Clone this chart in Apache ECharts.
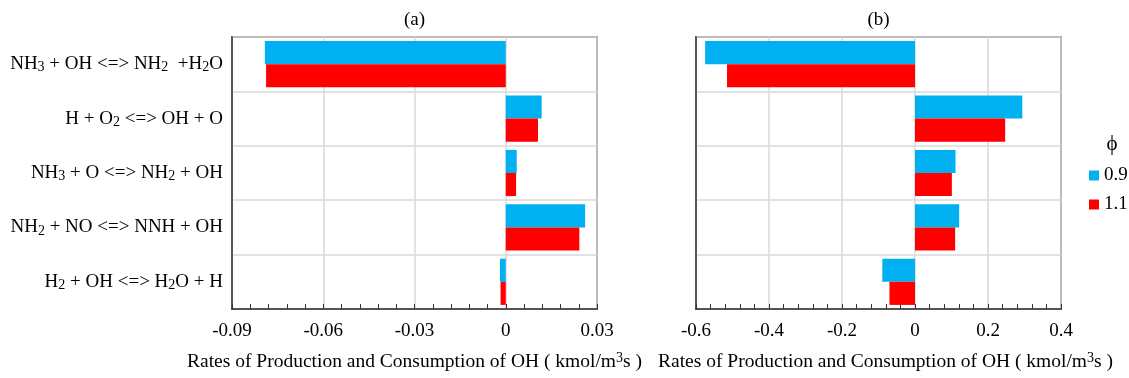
<!DOCTYPE html>
<html>
<head>
<meta charset="utf-8">
<script src="https://cdn.jsdelivr.net/npm/echarts@6/dist/echarts.min.js"></script>
<style>html,body{margin:0;padding:0;background:#fff}#c{width:1129px;height:378px}</style>
</head>
<body>
<div id="c"></div>
<script>
// Categories (underscore + digit marks a subscript)
var categories = [
  'NH_3 + OH <=> NH_2  +H_2O',
  'H + O_2 <=> OH + O',
  'NH_3 + O <=> NH_2 + OH',
  'NH_2 + NO <=> NNH + OH',
  'H_2 + OH <=> H_2O + H'
];
var seriesNames = ['0.9', '1.1'];
// Panel (a)
var a_phi09 = [-0.0792, 0.0118, 0.0036, 0.0261, -0.0019];
var a_phi11 = [-0.0788, 0.0106, 0.0034, 0.0242, -0.0017];
// Panel (b)
var b_phi09 = [-0.575, 0.294, 0.111, 0.121, -0.0895];
var b_phi11 = [-0.515, 0.247, 0.101, 0.110, -0.070];
var aTicks = {min: -0.09, max: 0.03, interval: 0.03};
var bTicks = {min: -0.6, max: 0.4, interval: 0.2};
var panelTitles = ['(a)', '(b)'];
var axisTitle = 'Rates of Production and Consumption of OH ( kmol/m{p|3}s )';
var legendTitle = '\u03D5';

var FONT = 'Liberation Serif';
var BLUE = '#00B0F0', RED = '#FF0000', GRID = '#D9D9D9', LINE = '#333333';

function fmtNum(v) {
  var r = Math.round(v * 1000) / 1000;
  if (Math.abs(r) < 1e-9) return '0';
  return String(r);
}
function catFmt(s) { return s.replace(/_(\d)/g, '{s|$1}'); }

function xAxisFor(t, gi, namePad) {
  return {
    type: 'value', gridIndex: gi, min: t.min, max: t.max, interval: t.interval,
    axisLine: {show: true, onZero: false, lineStyle: {color: LINE, width: 1.5}},
    axisTick: {show: true, inside: true, length: 5, lineStyle: {color: LINE, width: 1}},
    minorTick: {show: true, splitNumber: 5, length: 5, lineStyle: {color: LINE, width: 1}},
    splitLine: {show: true, lineStyle: {color: GRID, width: 1.5}},
    axisLabel: {fontFamily: FONT, fontSize: 19, color: '#000', margin: 13, formatter: fmtNum},
    name: axisTitle, nameLocation: 'middle', nameGap: 42,
    nameTextStyle: {fontFamily: FONT, fontSize: 19.5, color: '#000', lineHeight: 22, padding: namePad,
      rich: {p: {fontFamily: FONT, fontSize: 14, lineHeight: 13, verticalAlign: 'top', color: '#000'}}}
  };
}
function yAxisFor(gi, showLabels) {
  return {
    type: 'category', gridIndex: gi, data: categories, inverse: true,
    axisLine: {show: true, onZero: false, lineStyle: {color: LINE, width: 1.5}},
    axisTick: {show: false},
    splitLine: {show: true, lineStyle: {color: GRID, width: 1.5}},
    axisLabel: {show: showLabels, fontFamily: FONT, fontSize: 19, color: '#000', margin: 9,
      lineHeight: 21, formatter: catFmt,
      rich: {s: {fontFamily: FONT, fontSize: 14, lineHeight: 11, verticalAlign: 'bottom', color: '#000'}}}
  };
}
function bar(name, data, gi, color) {
  return {
    type: 'bar', name: name, data: data, xAxisIndex: gi, yAxisIndex: gi,
    barGap: '0%', barCategoryGap: '15%', itemStyle: {color: color}
  };
}

var chart = echarts.init(document.getElementById('c'), null, {renderer: 'canvas'});
chart.setOption({
  animation: false,
  backgroundColor: '#fff',
  grid: [
    {left: 232, right: 532, top: 37, bottom: 63, show: true, borderColor: LINE, borderWidth: 1.5, containLabel: false},
    {left: 696, right: 68, top: 37, bottom: 63, show: true, borderColor: LINE, borderWidth: 1.5, containLabel: false}
  ],
  xAxis: [xAxisFor(aTicks, 0, [0, 0, 0, 0]), xAxisFor(bTicks, 1, [0, 0, 0, 14])],
  yAxis: [yAxisFor(0, true), yAxisFor(1, false)],
  legend: {
    data: seriesNames, orient: 'vertical', left: 1089, top: 166, padding: 0, itemWidth: 10, itemHeight: 10,
    itemGap: 10, icon: 'rect', textStyle: {fontFamily: FONT, fontSize: 19, color: '#000'}
  },
  graphic: [
    {type: 'text', x: 414.5, y: 20, style: {text: panelTitles[0], font: '19px "Liberation Serif"', fill: '#000', textAlign: 'center', textVerticalAlign: 'middle'}},
    {type: 'text', x: 878.5, y: 20, style: {text: panelTitles[1], font: '19px "Liberation Serif"', fill: '#000', textAlign: 'center', textVerticalAlign: 'middle'}},
    {type: 'text', x: 1112, y: 144, style: {text: legendTitle, font: '21px "Liberation Serif"', fill: '#000', textAlign: 'center', textVerticalAlign: 'middle'}}
  ],
  series: [
    bar(seriesNames[0], a_phi09, 0, BLUE),
    bar(seriesNames[1], a_phi11, 0, RED),
    bar(seriesNames[0], b_phi09, 1, BLUE),
    bar(seriesNames[1], b_phi11, 1, RED)
  ]
});
</script>
</body>
</html>
